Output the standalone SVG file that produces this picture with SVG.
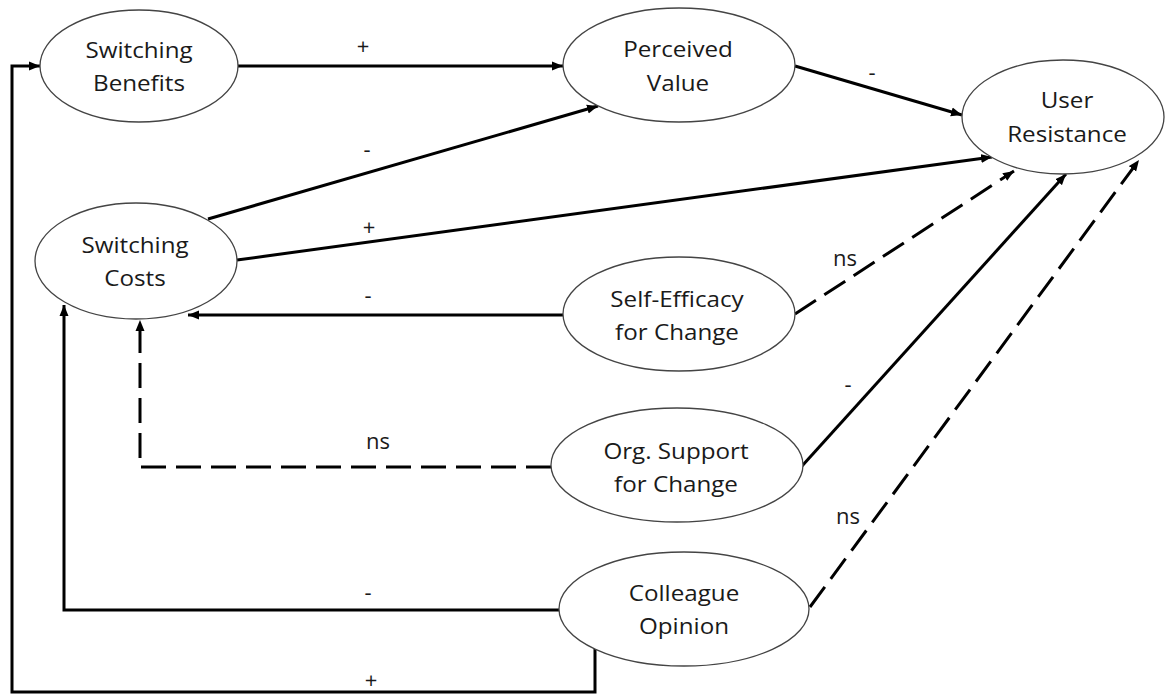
<svg xmlns="http://www.w3.org/2000/svg" width="1167" height="695" viewBox="0 0 1167 695">
<style>
.node ellipse{fill:#fff;stroke:#444;stroke-width:1.3}
.node text,.lbl{font-family:"Open Sans","Noto Sans",sans-serif;font-size:22px;fill:#1a1a1a;text-anchor:middle}
.edge{fill:none;stroke:#000;stroke-width:3}
.dash{stroke-dasharray:25 10}
</style>
<defs>
<marker id="ah" markerUnits="userSpaceOnUse" markerWidth="12" markerHeight="10" refX="11" refY="5" orient="auto">
<path d="M0,0.5 L11,5 L0,9.5 z" fill="#000"/>
</marker>
</defs>
<rect width="1167" height="695" fill="#fff"/>
<g id="connectors">
<line class="edge" x1="238" y1="66" x2="563" y2="66" marker-end="url(#ah)"/>
<line class="edge" x1="795" y1="66" x2="962" y2="115" marker-end="url(#ah)"/>
<line class="edge" x1="208" y1="219" x2="598" y2="106" marker-end="url(#ah)"/>
<line class="edge" x1="237" y1="260" x2="992" y2="157" marker-end="url(#ah)"/>
<line class="edge" x1="563" y1="315" x2="188" y2="315" marker-end="url(#ah)"/>
<line class="edge dash" x1="795" y1="314" x2="1014" y2="171" marker-end="url(#ah)"/>
<line class="edge" x1="802" y1="466" x2="1066" y2="174" marker-end="url(#ah)"/>
<polyline class="edge dash" points="551,467 140,467 140,320" marker-end="url(#ah)"/>
<line class="edge dash" x1="810" y1="607" x2="1139" y2="160" marker-end="url(#ah)"/>
<polyline class="edge" points="559,610 64,610 64,305" marker-end="url(#ah)"/>
<polyline class="edge" points="595,649 595,692 12,692 12,66 40,66" marker-end="url(#ah)"/>
</g>
<g id="labels">
<text class="lbl" x="363" y="54">+</text>
<text class="lbl" x="872" y="80">-</text>
<text class="lbl" x="367" y="157">-</text>
<text class="lbl" x="369" y="235">+</text>
<text class="lbl" x="368" y="303">-</text>
<text class="lbl" x="845" y="266">ns</text>
<text class="lbl" x="848" y="392">-</text>
<text class="lbl" x="378" y="449">ns</text>
<text class="lbl" x="848" y="524">ns</text>
<text class="lbl" x="368" y="600">-</text>
<text class="lbl" x="371" y="688">+</text>
</g>
<g id="switching-benefits" class="node">
<ellipse cx="139" cy="66" rx="99" ry="56"/>
<text transform="translate(139,58) scale(1.1,1)">Switching</text>
<text transform="translate(139,91) scale(1.1,1)">Benefits</text>
</g>
<g id="perceived-value" class="node">
<ellipse cx="679" cy="65" rx="116" ry="57"/>
<text transform="translate(678,57) scale(1.1,1)">Perceived</text>
<text transform="translate(678,91) scale(1.1,1)">Value</text>
</g>
<g id="user-resistance" class="node">
<ellipse cx="1063" cy="117" rx="101" ry="57"/>
<text transform="translate(1067,108) scale(1.1,1)">User</text>
<text transform="translate(1067,142) scale(1.1,1)">Resistance</text>
</g>
<g id="switching-costs" class="node">
<ellipse cx="136" cy="261" rx="101" ry="58"/>
<text transform="translate(135,253) scale(1.1,1)">Switching</text>
<text transform="translate(135,286) scale(1.1,1)">Costs</text>
</g>
<g id="self-efficacy" class="node">
<ellipse cx="679" cy="314" rx="116" ry="57"/>
<text transform="translate(677,307) scale(1.1,1)">Self-Efficacy</text>
<text transform="translate(677,340) scale(1.1,1)">for Change</text>
</g>
<g id="org-support" class="node">
<ellipse cx="677" cy="465" rx="126" ry="57"/>
<text transform="translate(676,459) scale(1.1,1)">Org. Support</text>
<text transform="translate(676,492) scale(1.1,1)">for Change</text>
</g>
<g id="colleague-opinion" class="node">
<ellipse cx="684" cy="609" rx="125" ry="57"/>
<text transform="translate(684,601) scale(1.1,1)">Colleague</text>
<text transform="translate(684,634) scale(1.1,1)">Opinion</text>
</g>
</svg>
